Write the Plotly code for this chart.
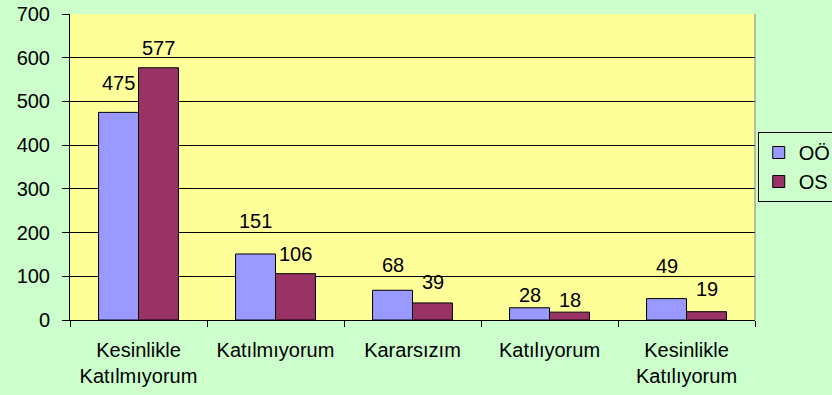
import plotly.graph_objects as go

# Survey responses per answer option, two groups
categories = ["Kesinlikle<br>Katılmıyorum", "Katılmıyorum", "Kararsızım",
              "Katılıyorum", "Kesinlikle<br>Katılıyorum"]
oo_values = [475, 151, 68, 28, 49]
os_values = [577, 106, 39, 18, 19]
series_names = ["OÖ", "OS"]

# vertical pixel lift of each value label above its bar
oo_label_lift = [29, 33, 25, 13, 33]
os_label_lift = [20, 20, 21, 12, 23]

FONT = "Liberation Sans, Arial, sans-serif"
BAR_HALF_PX = 20

fig = go.Figure()
fig.add_trace(go.Bar(name=series_names[0], x=categories, y=oo_values,
                     marker=dict(color="#9999FF", line=dict(color="black", width=1))))
fig.add_trace(go.Bar(name=series_names[1], x=categories, y=os_values,
                     marker=dict(color="#993366", line=dict(color="black", width=1))))

annotations = []
for vals, lifts, shift in ((oo_values, oo_label_lift, -BAR_HALF_PX),
                           (os_values, os_label_lift, BAR_HALF_PX)):
    for cat, v, lift in zip(categories, vals, lifts):
        annotations.append(dict(x=cat, y=v, xref="x", yref="y", text=str(v),
                                showarrow=False, xshift=shift, yshift=lift,
                                yanchor="middle", xanchor="center",
                                font=dict(family=FONT, size=20, color="black")))

fig.update_layout(
    width=832, height=395,
    margin=dict(l=70, r=77, t=14, b=75, autoexpand=False),
    paper_bgcolor="#CCFFCC",
    plot_bgcolor="#FFFF99",
    barmode="group",
    bargap=0.417,
    bargroupgap=0,
    font=dict(family=FONT, size=20, color="black"),
    annotations=annotations,
    showlegend=True,
    legend=dict(x=1.004, xanchor="left", y=0.5, yanchor="middle",
                bgcolor="#CCFFCC", bordercolor="black", borderwidth=1,
                font=dict(family=FONT, size=20, color="black"),
                tracegroupgap=0),
    shapes=[dict(type="line", xref="paper", yref="paper", x0=1, x1=1, y0=0, y1=1,
                 line=dict(color="#808080", width=1))],
)
fig.update_xaxes(
    showline=True, linecolor="black", linewidth=1,
    ticks="outside", ticklen=6, tickcolor="black", tickson="boundaries",
    showgrid=False, ticklabelstandoff=12,
    tickfont=dict(family=FONT, size=20, color="black"),
)
fig.update_yaxes(
    range=[0, 700], dtick=100, tick0=0,
    showline=True, linecolor="black", linewidth=1,
    ticks="outside", ticklen=7, tickcolor="black",
    showgrid=True, gridcolor="black", gridwidth=1, zeroline=False,
    ticklabelstandoff=8,
    tickfont=dict(family=FONT, size=20, color="black"),
)

fig.write_html("out.html")
